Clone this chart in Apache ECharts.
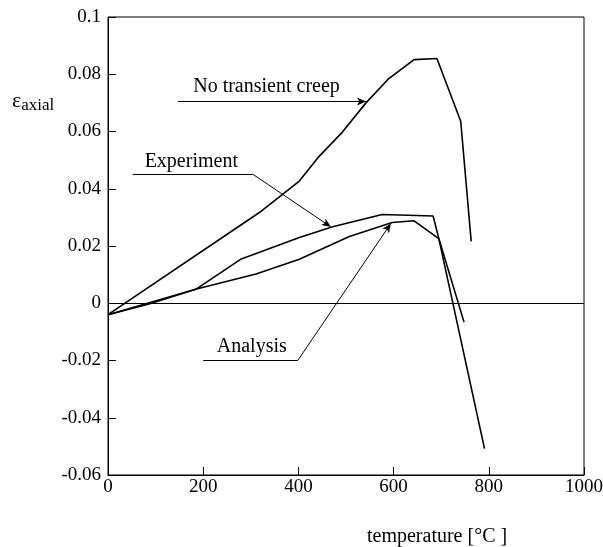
<!DOCTYPE html>
<html>
<head>
<meta charset="utf-8">
<script src="https://cdn.jsdelivr.net/npm/echarts@6/dist/echarts.min.js"></script>
<style>
  html, body { margin: 0; padding: 0; background: #fff; }
  #chart { width: 603px; height: 547px; }
</style>
</head>
<body>
<div id="chart"></div>
<script>
// temperature [°C] / axial strain
const noCreepT = [0, 318, 402, 444, 492, 542, 590, 643, 691, 741, 763];
const noCreepE = [-0.004, 0.0317, 0.0427, 0.0514, 0.0597, 0.070, 0.0785, 0.0851, 0.0855, 0.0636, 0.0216];

const experimentT = [0, 186, 280, 402, 472, 576, 683, 695, 748];
const experimentE = [-0.004, 0.005, 0.0155, 0.023, 0.0267, 0.031, 0.0305, 0.0226, -0.0066];

const analysisT = [0, 88, 186, 311, 402, 507, 597, 643, 695, 791];
const analysisE = [-0.004, -0.0002, 0.005, 0.0102, 0.0154, 0.0233, 0.0282, 0.0288, 0.0226, -0.0508];

const xTicks = [0, 200, 400, 600, 800, 1000];
const yTicks = [-0.06, -0.04, -0.02, 0, 0.02, 0.04, 0.06, 0.08, 0.1];

const noteTexts = ['No transient creep', 'Experiment', 'Analysis'];
const noteT = [333, 175, 302];
const noteE = [0.0755, 0.0495, -0.0152];

const pairs = (xs, ys) => xs.map((x, i) => [x, ys[i]]);

const font = 'Liberation Serif';
const ink = '#000';

// leader lines for the annotations (data coordinates)
const arrowLine = (from, to) => [
  { coord: from, symbol: 'none' },
  { coord: to, symbol: 'arrow', symbolSize: [6, 9] }
];
const plainLine = (from, to) => [
  { coord: from, symbol: 'none' },
  { coord: to, symbol: 'none' }
];

const curve = (name, data, extra) => Object.assign({
  name,
  type: 'line',
  data,
  symbol: 'none',
  lineStyle: { color: ink, width: 1.6 },
  silent: true,
  z: 3
}, extra || {});

const chartDom = document.getElementById('chart');
const myChart = echarts.init(chartDom, null, { renderer: 'canvas' });

const option = {
  animation: false,
  backgroundColor: '#fff',
  grid: {
    left: 108,
    top: 17,
    right: 19,
    bottom: 72,
    outerBoundsMode: 'none',
    containLabel: false,
    show: true,
    borderColor: ink,
    borderWidth: 1
  },
  xAxis: {
    type: 'value',
    min: xTicks[0],
    max: xTicks[xTicks.length - 1],
    interval: 200,
    axisLine: { onZero: false, lineStyle: { color: ink, width: 1 } },
    axisTick: { inside: true, length: 8, lineStyle: { color: ink } },
    axisLabel: {
      color: ink, fontFamily: font, fontSize: 19, margin: 3,
      formatter: v => String(v)
    },
    splitLine: { show: false }
  },
  yAxis: {
    type: 'value',
    min: yTicks[0],
    max: yTicks[yTicks.length - 1],
    interval: 0.02,
    axisLine: { show: true, lineStyle: { color: ink, width: 1 } },
    axisTick: { show: true, inside: true, length: 8, lineStyle: { color: ink } },
    axisLabel: {
      color: ink, fontFamily: font, fontSize: 19, margin: 7,
      formatter: v => String(Math.round(v * 100) / 100)
    },
    splitLine: { show: false }
  },
  graphic: [
    {
      type: 'text',
      left: 12,
      top: 90,
      style: {
        text: '{e|ε}{s|axial}',
        rich: {
          e: { fontFamily: font, fontSize: 22, fill: ink },
          s: { fontFamily: font, fontSize: 17, fill: ink, padding: [9, 0, 0, 0] }
        }
      }
    },
    {
      type: 'text',
      left: 367,
      top: 527,
      style: {
        text: 'temperature [°C ]',
        font: '20px "Liberation Serif"',
        fill: ink
      }
    }
  ],
  series: [
    curve('No transient creep', pairs(noCreepT, noCreepE), {
      markLine: {
        silent: true,
        animation: false,
        lineStyle: { color: ink, width: 1, type: 'solid' },
        label: { show: false },
        data: [
          // zero line
          [{ coord: [0, 0], symbol: 'none' }, { coord: [1000, 0], symbol: 'none' }],
          arrowLine([147, 0.0705], [542, 0.0705]),
          plainLine([52, 0.0451], [304, 0.0451]),
          arrowLine([304, 0.0451], [468, 0.0267]),
          plainLine([200, -0.0199], [399, -0.0199]),
          arrowLine([399, -0.0199], [594, 0.0278])
        ]
      }
    }),
    curve('Experiment', pairs(experimentT, experimentE)),
    curve('Analysis', pairs(analysisT, analysisE)),
    {
      name: 'notes',
      type: 'scatter',
      silent: true,
      symbol: 'circle',
      symbolSize: 1,
      itemStyle: { color: 'rgba(0,0,0,0)' },
      data: noteTexts.map((t, i) => ({ value: [noteT[i], noteE[i]], name: t })),
      label: {
        show: true,
        position: 'inside',
        formatter: p => p.name,
        fontFamily: font,
        fontSize: 20,
        color: ink,
        textBorderWidth: 0,
        opacity: 1
      },
      z: 5
    }
  ]
};

myChart.setOption(option);
</script>
</body>
</html>
